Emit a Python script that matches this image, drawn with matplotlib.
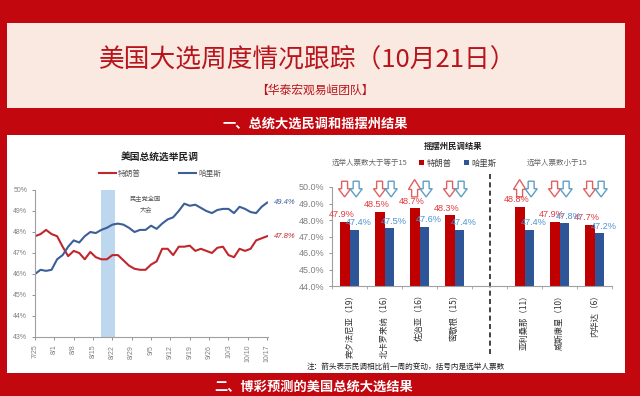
import numpy as np
import matplotlib
matplotlib.use("Agg")
import matplotlib.pyplot as plt
from matplotlib.patches import Rectangle, Polygon

plt.rcParams['font.family'] = ['Liberation Sans', 'Noto Sans CJK SC']
CJK = ['Noto Sans CJK SC', 'DejaVu Sans']

# ---- data: national polls (days since 7/25) ----
poll_days = [0, 2, 4, 6, 8, 10, 12, 14, 16, 18, 20, 22, 24, 26, 28, 30, 32, 34, 36, 38, 40, 42,
             44, 46, 48, 50, 52, 54, 56, 58, 60, 62, 64, 66, 68, 70, 72, 74, 76, 78, 80, 82, 84]
trump_poll = [47.8, 47.9, 48.1, 47.9, 47.8, 47.3, 46.85, 47.1, 47.0, 46.7, 47.05, 46.8, 46.7, 46.7,
              46.9, 46.9, 46.65, 46.4, 46.25, 46.2, 46.2, 46.45, 46.6, 47.2, 47.2, 46.9, 47.3, 47.3,
              47.35, 47.1, 47.2, 47.1, 47.0, 47.25, 47.3, 46.9, 46.8, 47.2, 47.1, 47.2, 47.6, 47.7, 47.8]
harris_poll = [46.0, 46.2, 46.15, 46.2, 46.7, 46.9, 47.3, 47.6, 47.5, 47.8, 48.0, 47.95, 48.1, 48.2,
               48.35, 48.4, 48.35, 48.2, 48.0, 48.1, 48.1, 48.3, 48.15, 48.4, 48.6, 48.7, 49.0, 49.35,
               49.25, 49.3, 49.15, 49.0, 48.9, 49.05, 49.1, 49.1, 48.9, 49.2, 49.1, 48.95, 48.9, 49.2, 49.4]
date_ticks = [0, 7, 14, 21, 28, 35, 42, 49, 56, 63, 70, 77, 84]
date_labels = ['7/25', '8/1', '8/8', '8/15', '8/22', '8/29', '9/5', '9/12', '9/19', '9/26',
               '10/3', '10/10', '10/17']
dnc_span = [24, 29]

# ---- data: swing states ----
big_states = ['宾夕法尼亚（19）', '北卡罗来纳（16）', '佐治亚（16）', '密歇根（15）']
small_states = ['亚利桑那（11）', '威斯康星（10）', '内华达（6）']
trump_state = [47.9, 48.5, 48.7, 48.3, 48.8, 47.9, 47.7]
harris_state = [47.4, 47.5, 47.6, 47.4, 47.4, 47.8, 47.2]
trump_chg = ['down', 'down', 'up', 'down', 'up', 'down', 'down']
harris_chg = ['down', 'down', 'down', 'down', 'down', 'down', 'down']

RED_BG = '#c3070e'
PALE = '#fae9e1'
LINE_RED = '#c0272d'
LINE_BLUE = '#3d5f98'
BAR_RED = '#c00000'
BAR_BLUE = '#2e5597'
GRAY = '#808080'

W, H = 640, 396
def fx(x):
    return x / W
def fy(y):
    return 1 - y / H

fig = plt.figure(figsize=(6.4, 3.96), dpi=100, facecolor=RED_BG)

# panels (behind the axes)
fig.add_artist(Rectangle((fx(7), fy(108)), fx(625) - fx(7), fy(23) - fy(108),
                         transform=fig.transFigure, facecolor=PALE, edgecolor='none', zorder=-10))
fig.add_artist(Rectangle((fx(7), fy(373)), fx(625) - fx(7), fy(135) - fy(373),
                         transform=fig.transFigure, facecolor='white', edgecolor='none', zorder=-10))

fig.text(fx(308), fy(60), '美国大选周度情况跟踪（10月21日）', family=CJK, fontsize=18.5,
         color='#b8141c', ha='center', va='center')
fig.text(fx(315), fy(90), '【华泰宏观易峘团队】', family=CJK, fontsize=8.5,
         color='#b8141c', ha='center', va='center')
fig.text(fx(315), fy(124), '一、总统大选民调和摇摆州结果', family=CJK, fontsize=9.5,
         color='white', fontweight='bold', ha='center', va='center')
fig.text(fx(314), fy(387), '二、博彩预测的美国总统大选结果', family=CJK, fontsize=9.5,
         color='white', fontweight='bold', ha='center', va='center')

# ---- line chart ----
ax1 = fig.add_axes([fx(35), fy(337), fx(268) - fx(35), fy(190) - fy(337)])
ax1.patch.set_alpha(0)
ax1.axvspan(dnc_span[0], dnc_span[1], color='#bdd7ee', lw=0)
l1, = ax1.plot(poll_days, trump_poll, color=LINE_RED, lw=1.5, label='特朗普')
l2, = ax1.plot(poll_days, harris_poll, color=LINE_BLUE, lw=1.5, label='哈里斯')
ax1.set_xlim(0, 84.3)
ax1.set_ylim(43, 50)
ax1.set_yticks(range(43, 51))
ax1.set_yticklabels(['%d%%' % v for v in range(43, 51)])
ax1.set_xticks(date_ticks)
ax1.set_xticklabels(date_labels, rotation=90)
ax1.tick_params(labelsize=5, colors=GRAY, length=2, width=0.6)
for s in ['top', 'right']:
    ax1.spines[s].set_visible(False)
for s in ['left', 'bottom']:
    ax1.spines[s].set_color('#a0a0a0')
    ax1.spines[s].set_linewidth(0.8)
ax1.text(40, 49.3, '民主党全国\n大会', family=CJK, fontsize=4.5, color='#555555',
         ha='center', va='center', linespacing=1.6)
ax1.annotate('%.1f%%' % harris_poll[-1], (poll_days[-1], harris_poll[-1]), xytext=(5, 0),
             textcoords='offset points', fontsize=5.5, color=LINE_BLUE, style='italic',
             va='center', annotation_clip=False)
ax1.annotate('%.1f%%' % trump_poll[-1], (poll_days[-1], trump_poll[-1]), xytext=(5, 0),
             textcoords='offset points', fontsize=5.5, color=LINE_RED, style='italic',
             va='center', annotation_clip=False)
fig.text(fx(160), fy(157), '美国总统选举民调', family=CJK, fontsize=7, fontweight='bold',
         ha='center', va='center', color='#222222')
ax1.legend(handles=[l1, l2], loc='center', bbox_to_anchor=(fx(160), fy(174)),
           bbox_transform=fig.transFigure, ncol=2, frameon=False, columnspacing=5,
           handlelength=2.2, handletextpad=0.3, prop={'family': CJK, 'size': 5.5},
           labelcolor='#555555')

# ---- bar chart ----
n_big = len(big_states)
n_small = len(small_states)
xpos = np.r_[np.arange(n_big), np.arange(n_small) + n_big + 1]
states = big_states + small_states
bw = 0.28

ax2 = fig.add_axes([fx(332), fy(286), fx(612) - fx(332), fy(187) - fy(286)])
ax2.patch.set_alpha(0)
b1 = ax2.bar(xpos - bw / 2, trump_state, bw, color=BAR_RED, label='特朗普')
b2 = ax2.bar(xpos + bw / 2, harris_state, bw, color=BAR_BLUE, label='哈里斯')
ax2.set_ylim(44, 50)
ax2.set_xlim(-0.5, n_big + n_small + 0.5)
ax2.set_yticks(range(44, 51))
ax2.set_yticklabels(['%.1f%%' % v for v in range(44, 51)])
ax2.set_xticks(xpos)
ax2.set_xticklabels(states, rotation=90, family=CJK, fontsize=6, color='#333333')
ax2.set_xticks(np.arange(-0.5, n_big + n_small + 1), minor=True)
ax2.tick_params(axis='x', which='major', length=0, pad=3)
ax2.tick_params(axis='x', which='minor', length=2.5, width=0.6, color='#a0a0a0')
ax2.tick_params(axis='y', labelsize=6.5, colors=GRAY, length=2, width=0.6)
for s in ['top', 'right']:
    ax2.spines[s].set_visible(False)
for s in ['left', 'bottom']:
    ax2.spines[s].set_color('#a0a0a0')
    ax2.spines[s].set_linewidth(0.8)

for x, v in zip(xpos - bw / 2, trump_state):
    ax2.text(x - 0.07, v + 0.15, '%.1f%%' % v, color='#e33a3f', fontsize=6.6, ha='center',
             va='bottom', zorder=5)
for x, v in zip(xpos + bw / 2, harris_state):
    ax2.text(x + 0.13, v + 0.15, '%.1f%%' % v, color='#4f93d0', fontsize=6.6, ha='center',
             va='bottom', zorder=5)

def hollow_arrow(ax, x, direction, color):
    top, bot = 50.35, 49.4
    sw, hw = 0.085, 0.175
    if direction == 'down':
        mid = (top + bot) / 2 + 0.02
        pts = [(x - sw, top), (x + sw, top), (x + sw, mid), (x + hw, mid), (x, bot),
               (x - hw, mid), (x - sw, mid)]
    else:
        mid = (top + bot) / 2 - 0.02
        pts = [(x - sw, bot), (x + sw, bot), (x + sw, mid), (x + hw, mid), (x, top + 0.1),
               (x - hw, mid), (x - sw, mid)]
    ax.add_patch(Polygon(pts, closed=True, facecolor='none', edgecolor=color, lw=1.0,
                         clip_on=False, zorder=3))

for x, d in zip(xpos - bw / 2, trump_chg):
    hollow_arrow(ax2, x, d, '#e06060')
for x, d in zip(xpos + bw / 2, harris_chg):
    hollow_arrow(ax2, x + 0.05, d, '#5e9fc4')

ax2.plot([n_big, n_big], [39.9, 51.0], ls=(0, (3, 2)), color='#222222', lw=1.2, clip_on=False)

fig.text(fx(453), fy(146), '摇摆州民调结果', family=CJK, fontsize=6, fontweight='bold',
         ha='center', va='center', color='#222222')
ax2.legend(handles=[b1, b2], loc='center', bbox_to_anchor=(fx(458), fy(163)),
           bbox_transform=fig.transFigure, ncol=2, frameon=False, columnspacing=1.5,
           handlelength=0.6, handleheight=0.6, handletextpad=0.3,
           prop={'family': CJK, 'size': 6}, labelcolor='#444444')
fig.text(fx(370), fy(163), '选举人票数大于等于15', family=CJK, fontsize=5.4, color='#666666',
         ha='center', va='center')
fig.text(fx(557), fy(163), '选举人票数小于15', family=CJK, fontsize=5.4, color='#666666',
         ha='center', va='center')
fig.text(fx(406), fy(367), '注：箭头表示民调相比前一周的变动，括号内是选举人票数', family=CJK,
         fontsize=5.5, color='#222222', ha='center', va='center')

fig.savefig('out.png', dpi=100, facecolor=RED_BG)
